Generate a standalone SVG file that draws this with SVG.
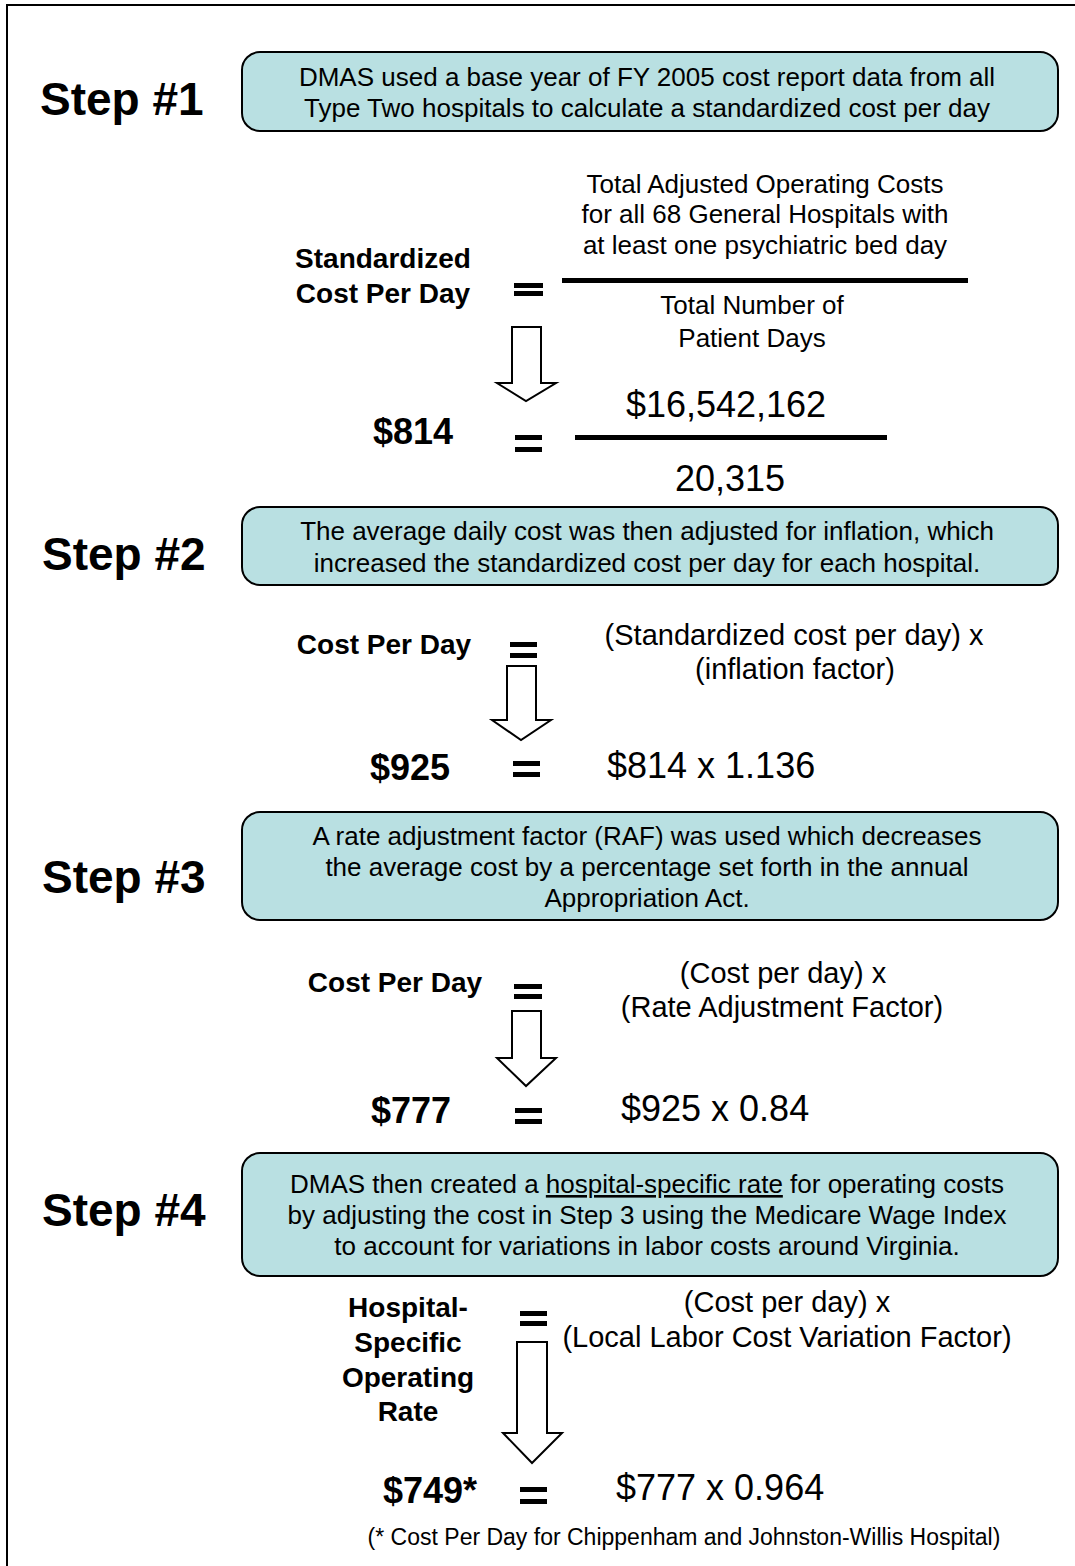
<svg xmlns="http://www.w3.org/2000/svg" width="1075" height="1566" viewBox="0 0 1075 1566">
<style>
text{font-family:"Liberation Sans",Arial,sans-serif;fill:#000}
.step{font-size:46px;font-weight:bold}
.box{fill:#b9e0e2;stroke:#000;stroke-width:2}
.bt{font-size:26px;text-anchor:middle}
.lbl{font-size:28px;font-weight:bold;text-anchor:middle}
.big{font-size:36px}
.bigb{font-size:36px;font-weight:bold}
.f{font-size:26px;text-anchor:middle}
.g{font-size:29px;text-anchor:middle}
.eq{fill:#000}
.arr{fill:#fff;stroke:#000;stroke-width:2}
</style>
<rect x="7" y="5" width="1080" height="1580" fill="none" stroke="#000" stroke-width="2"/>

<g id="step1">
<text class="step" x="40" y="115">Step #1</text>
<rect class="box" x="242" y="52" width="816" height="79" rx="18"/>
<text class="bt" x="647" y="86">DMAS used a base year of FY 2005 cost report data from all</text>
<text class="bt" x="647" y="117">Type Two hospitals  to calculate a standardized cost per day</text>
</g>

<g id="formula1">
<text class="lbl" x="383" y="268" font-size="29">Standardized</text>
<text class="lbl" x="383" y="303" font-size="29">Cost Per Day</text>
<rect class="eq" x="514" y="283" width="29" height="5"/>
<rect class="eq" x="514" y="291" width="29" height="5"/>
<text class="f" x="765" y="193">Total Adjusted Operating Costs</text>
<text class="f" x="765" y="223">for all 68 General Hospitals with</text>
<text class="f" x="765" y="254">at least one psychiatric bed day</text>
<rect class="eq" x="562" y="278" width="406" height="5"/>
<text class="f" x="752" y="314">Total Number of</text>
<text class="f" x="752" y="347">Patient Days</text>
</g>

<g id="result1">
<text class="bigb" x="373" y="444">$814</text>
<rect class="eq" x="515" y="435" width="27" height="5"/>
<rect class="eq" x="515" y="447" width="27" height="5"/>
<text class="big" x="726" y="417" text-anchor="middle">$16,542,162</text>
<rect class="eq" x="575" y="435" width="312" height="5"/>
<text class="big" x="730" y="491" text-anchor="middle">20,315</text>
</g>

<g id="step2">
<text class="step" x="42" y="570">Step #2</text>
<rect class="box" x="242" y="507" width="816" height="78" rx="18"/>
<text class="bt" x="647" y="540">The average daily cost was then adjusted for inflation, which</text>
<text class="bt" x="647" y="572">increased the standardized cost per day for each hospital.</text>
</g>

<g id="formula2">
<text class="lbl" x="384" y="654">Cost Per Day</text>
<rect class="eq" x="510" y="642" width="27" height="5"/>
<rect class="eq" x="510" y="653" width="27" height="5"/>
<text class="g" x="794" y="645">(Standardized cost per day) x</text>
<text class="g" x="795" y="679">(inflation factor)</text>
</g>

<g id="result2">
<text class="bigb" x="370" y="780">$925</text>
<rect class="eq" x="513" y="761" width="27" height="5"/>
<rect class="eq" x="513" y="772" width="27" height="5"/>
<text class="big" x="607" y="778">$814 x 1.136</text>
</g>

<g id="step3">
<text class="step" x="42" y="893">Step #3</text>
<rect class="box" x="242" y="812" width="816" height="108" rx="18"/>
<text class="bt" x="647" y="845">A rate adjustment factor (RAF) was used which decreases</text>
<text class="bt" x="647" y="876">the average cost by a percentage set forth in the annual</text>
<text class="bt" x="647" y="907">Appropriation Act.</text>
</g>

<g id="formula3">
<text class="lbl" x="395" y="992">Cost Per Day</text>
<rect class="eq" x="514" y="984" width="28" height="5"/>
<rect class="eq" x="514" y="994" width="28" height="5"/>
<text class="g" x="783" y="983">(Cost per day)  x</text>
<text class="g" x="782" y="1017">(Rate Adjustment Factor)</text>
</g>

<g id="result3">
<text class="bigb" x="371" y="1123">$777</text>
<rect class="eq" x="515" y="1108" width="27" height="5"/>
<rect class="eq" x="515" y="1119" width="27" height="5"/>
<text class="big" x="621" y="1121">$925 x 0.84</text>
</g>

<g id="step4">
<text class="step" x="42" y="1226">Step #4</text>
<rect class="box" x="242" y="1153" width="816" height="123" rx="18"/>
<text class="bt" x="647" y="1193">DMAS then created a <tspan text-decoration="underline">hospital-specific rate</tspan> for operating costs</text>
<text class="bt" x="647" y="1224">by adjusting the cost in Step 3 using the Medicare Wage Index</text>
<text class="bt" x="647" y="1255">to account for variations in labor costs around Virginia.</text>
</g>

<g id="formula4">
<text class="lbl" x="408" y="1317" font-size="29">Hospital-</text>
<text class="lbl" x="408" y="1352" font-size="29">Specific</text>
<text class="lbl" x="408" y="1387" font-size="29">Operating</text>
<text class="lbl" x="408" y="1421" font-size="29">Rate</text>
<rect class="eq" x="520" y="1311" width="27" height="5"/>
<rect class="eq" x="520" y="1321" width="27" height="5"/>
<text class="g" x="787" y="1312">(Cost per day) x</text>
<text class="g" x="787" y="1347">(Local Labor Cost Variation Factor)</text>
</g>

<g id="result4">
<text class="bigb" x="383" y="1503">$749*</text>
<rect class="eq" x="520" y="1487" width="27" height="5"/>
<rect class="eq" x="520" y="1499" width="27" height="5"/>
<text class="big" x="616" y="1500">$777 x 0.964</text>
<text x="684" y="1545" font-size="23" text-anchor="middle">(* Cost Per Day for Chippenham and Johnston-Willis Hospital)</text>
</g>

<g id="connectors">
<polygon class="arr" points="512,327 541,327 541,383 556,383 526,401 497,383 512,383"/>
<polygon class="arr" points="507,666 536,666 536,720 551,720 521,740 492,720 507,720"/>
<polygon class="arr" points="512,1011 541,1011 541,1058 556,1058 526,1086 497,1058 512,1058"/>
<polygon class="arr" points="517,1342 547,1342 547,1433 562,1433 532,1463 503,1433 517,1433"/>
</g>
</svg>
